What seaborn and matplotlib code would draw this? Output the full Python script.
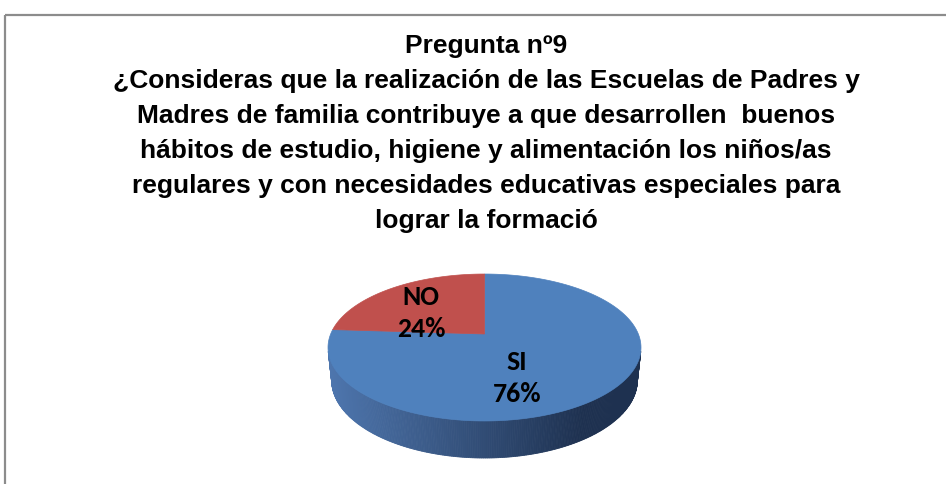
import numpy as np
import matplotlib
matplotlib.use("Agg")
import matplotlib.pyplot as plt
from matplotlib.patches import Polygon, Rectangle
from matplotlib import font_manager
from matplotlib.colors import to_rgb
import seaborn as sns

# ---- data ----
categories = ["SI", "NO"]
percentages = [76, 24]
title_lines = [
    "Pregunta nº9",
    "¿Consideras que la realización de las Escuelas de Padres y",
    "Madres de familia contribuye a que desarrollen  buenos",
    "hábitos de estudio, higiene y alimentación los niños/as",
    "regulares y con necesidades educativas especiales para",
    "lograr la formació",
]

# ---- style ----
sns.set_theme(style="white")
available = {f.name for f in font_manager.fontManager.ttflist}
title_font = next((n for n in ["Liberation Sans Narrow", "Liberation Sans", "DejaVu Sans"] if n in available))
label_font = next((n for n in ["Carlito", "Lato", "Open Sans", "DejaVu Sans"] if n in available))
title_size = 20 if title_font == "Liberation Sans Narrow" else 19

top_colors = {"SI": "#4F81BD", "NO": "#C0504D"}
side_light = np.array(to_rgb("#4E76AE"))
side_dark = np.array(to_rgb("#1E3150"))

W, H = 946, 485
fig = plt.figure(figsize=(W / 100, H / 100), dpi=100)
ax = fig.add_axes([0, 0, 1, 1])
ax.set_xlim(0, W)
ax.set_ylim(H, 0)
ax.axis("off")

# chart frame
ax.add_patch(Rectangle((5, 16), W + 20, H + 20, fill=False,
                       edgecolor="#8C8C8C", linewidth=1.6))

# title, one line at a time
for i, line in enumerate(title_lines):
    ax.text(486, 53 + 35 * i, line, ha="center", va="baseline",
            fontsize=title_size, fontweight="bold", family=title_font,
            color="black")

# ---- 3D pie projection ----
cx, cy = 484.5, 335.0          # projected centre of the top face
phi = np.arcsin(0.4615)        # camera elevation
cphi, sphi = np.cos(phi), np.sin(phi)
dist = 4.83                    # camera distance (radius units)
focal = 743.0
depth = 0.2426                 # pie thickness (radius units)


def project(theta, h=0.0, r=1.0):
    x = r * np.cos(theta)
    z = r * np.sin(theta)
    yc = h * cphi + z * sphi
    dd = dist + z * cphi - h * sphi
    return cx + focal * x / dd, cy - focal * yc / dd


fracs = np.array(percentages, dtype=float) / np.sum(percentages)
start = np.pi / 2
spans = []
for cat, fr in zip(categories, fracs):
    t1 = start
    t2 = start - 2 * np.pi * fr
    spans.append((cat, t1, t2))
    start = t2

# outer side wall (front-facing part), shaded left to right
limit = np.arcsin(1.0 / (dist * cphi))
thetas = np.linspace(np.pi + limit, 2 * np.pi - limit, 260)
xs_all = project(thetas)[0]
xmin, xmax = xs_all.min(), xs_all.max()
for a, b in zip(thetas[:-1], thetas[1:]):
    x1, y1 = project(a)
    x2, y2 = project(b)
    x3, y3 = project(b, -depth)
    x4, y4 = project(a, -depth)
    t = np.clip(((x1 + x2) / 2 - xmin) / ((xmax - xmin) * 0.82), 0, 1)
    col = side_light * (1 - t) + side_dark * t
    ax.add_patch(Polygon([(x1, y1), (x2, y2), (x3, y3), (x4, y4)],
                         closed=True, facecolor=col, edgecolor=col,
                         linewidth=0.6))

# top face slices
for cat, t1, t2 in spans:
    arc = np.linspace(t1, t2, 200)
    px, py = project(arc)
    pts = [(cx, cy)] + list(zip(px, py))
    ax.add_patch(Polygon(pts, closed=True, facecolor=top_colors[cat],
                         edgecolor=top_colors[cat], linewidth=0.5))

# data labels: category name above the percentage
label_pos = {"SI": (517, 362), "NO": (421, 297)}
for cat, pct in zip(categories, percentages):
    lx, ly = label_pos[cat]
    ax.text(lx, ly, cat, ha="center", va="center",
            fontsize=20, fontweight="bold", family=label_font, color="black")
    ax.text(lx, ly + 32, f"{pct}%", ha="center", va="center",
            fontsize=20, fontweight="bold", family=label_font, color="black")

fig.savefig("out.png", dpi=100)
